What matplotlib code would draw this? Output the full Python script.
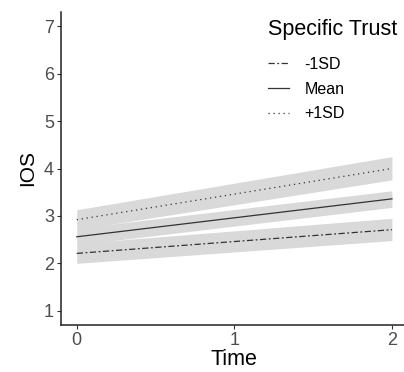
import matplotlib
matplotlib.use('Agg')
import matplotlib.pyplot as plt

# data
time = [0, 2]
groups = ['-1SD', 'Mean', '+1SD']
ios_fit = {'-1SD': [2.21, 2.71], 'Mean': [2.56, 3.36], '+1SD': [2.92, 4.00]}
ios_low = {'-1SD': [2.00, 2.48], 'Mean': [2.39, 3.18], '+1SD': [2.71, 3.76]}
ios_high = {'-1SD': [2.42, 2.95], 'Mean': [2.74, 3.53], '+1SD': [3.13, 4.25]}

styles = {'-1SD': (0, (5, 2, 1.5, 2)), 'Mean': '-', '+1SD': (0, (1, 3))}

plt.rcParams['font.family'] = ['Liberation Sans', 'DejaVu Sans']

fig = plt.figure(figsize=(4.04, 3.72), dpi=100)
ax = fig.add_axes([61 / 404, 47 / 372, 346.7 / 404, 313 / 372])

# ribbons first, then lines
for g in groups:
    ax.fill_between(time, ios_low[g], ios_high[g], color='#d9d9d9', lw=0)
for g in groups:
    ax.plot(time, ios_fit[g], color='#333333', lw=0.9, linestyle=styles[g], label=g)

ax.set_xlim(-0.1, 2.1)
ax.set_ylim(0.7, 7.3)
ax.set_xticks([0, 1, 2])
ax.set_yticks([1, 2, 3, 4, 5, 6, 7])
ax.spines['top'].set_visible(False)
ax.spines['right'].set_visible(False)
for s in ['left', 'bottom']:
    ax.spines[s].set_color('#222222')
    ax.spines[s].set_linewidth(1.1)
ax.tick_params(length=3, width=0.8, color='#333333', labelcolor='#4d4d4d', labelsize=13, pad=2)
ax.set_xlabel('Time', fontsize=15.5, labelpad=0)
ax.set_ylabel('IOS', fontsize=15, labelpad=5)

# legend: title placed as text, entries as a plain legend
fig.text(268 / 404, 1 - 30 / 372, 'Specific Trust', fontsize=15.5, va='center', ha='left')
ax.legend(loc='upper left', bbox_to_anchor=(268 / 404, 1 - 57 / 372),
          bbox_transform=fig.transFigure, frameon=False, fontsize=11.5,
          handlelength=1.3, handletextpad=1.0, labelspacing=0.6,
          borderpad=0, borderaxespad=0)

fig.savefig('out.png', dpi=100)
